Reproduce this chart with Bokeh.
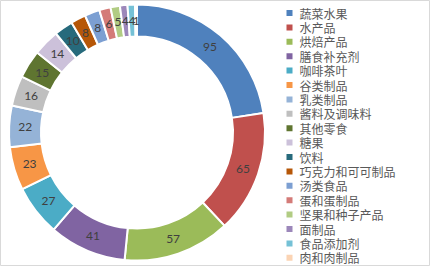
import numpy as np
from bokeh.plotting import figure
from bokeh.models import ColumnDataSource, Range1d
from bokeh.core.properties import value
from bokeh.embed import file_html
from bokeh.resources import INLINE

categories = ["蔬菜水果", "水产品", "烘焙产品", "膳食补充剂", "咖啡茶叶", "谷类制品",
              "乳类制品", "酱料及调味料", "其他零食", "糖果", "饮料", "巧克力和可可制品",
              "汤类食品", "蛋和蛋制品", "坚果和种子产品", "面制品", "食品添加剂", "肉和肉制品"]
values = [95, 65, 57, 41, 27, 23, 22, 16, 15, 14, 10, 8, 8, 6, 5, 4, 4, 1]
colors = ["#4F81BD", "#C0504D", "#9BBB59", "#8064A2", "#4BACC6", "#F79646",
          "#95B3D7", "#BFBFBF", "#5F7530", "#CCC1DA", "#276A7C", "#B65708",
          "#7C9FD2", "#D47B78", "#B1CC83", "#9C87BA", "#75C1D6", "#FBD4B4"]

W, H = 430, 266
cx, cy = 136.5, H - 132
r_out, r_in = 128, 96

vals = np.array(values, dtype=float)
total = vals.sum()
cum = np.concatenate([[0], np.cumsum(vals)])
start = np.pi / 2 - 2 * np.pi * cum[:-1] / total
end = np.pi / 2 - 2 * np.pi * cum[1:] / total
mid = (start + end) / 2
r_mid = (r_out + r_in) / 2

src = ColumnDataSource(dict(
    cat=categories, val=values, color=colors, start=start, end=end,
    lx=cx + r_mid * np.cos(mid), ly=cy + r_mid * np.sin(mid),
    label=[str(v) for v in values],
))

p = figure(width=W, height=H, output_backend="svg", toolbar_location=None,
           x_range=Range1d(0, W), y_range=Range1d(0, H),
           x_axis_location=None, y_axis_location=None, min_border=0)
p.grid.visible = False
p.outline_line_color = "#D9D9D9"
p.outline_line_width = 1
p.background_fill_color = "white"
p.border_fill_color = "white"

p.annular_wedge(x=cx, y=cy, inner_radius=r_in, outer_radius=r_out,
                start_angle="start", end_angle="end", direction="clock",
                fill_color="color", line_color="white", line_width=2, source=src)

p.text(x="lx", y="ly", text="label", source=src, text_align="center",
       text_baseline="middle", text_font=value("Lato"), text_font_size="12px",
       text_color="#404040")

# legend
n = len(categories)
leg_y = H - (12.5 + 14.4 * np.arange(n))
leg = ColumnDataSource(dict(y=leg_y, cat=categories, color=colors,
                            sx=np.full(n, 289.0), tx=np.full(n, 299.0)))
p.rect(x="sx", y="y", width=6, height=6, fill_color="color", line_color=None, source=leg)
p.text(x="tx", y="y", text="cat", source=leg, text_align="left", text_baseline="middle",
       text_font=value("Noto Sans CJK SC"), text_font_size="12px", text_color="#595959")

open("out.html", "w").write(file_html(p, INLINE))
